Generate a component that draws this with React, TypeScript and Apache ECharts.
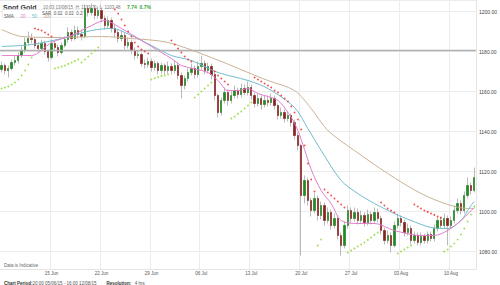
import React, { useEffect, useRef } from "react";
import * as echarts from "echarts";

// ---- data (4h-ish bars, 15 bars per week) ----
const weekLabels = ["08 Jun", "15 Jun", "22 Jun", "29 Jun", "06 Jul", "13 Jul", "20 Jul", "27 Jul", "03 Aug", "10 Aug"];
const barsPerWeek = 15;

const opens = [
  1171, 1173, 1170.5, 1171.5, 1174.5, 1175.5, 1178, 1180.5, 1184.5, 1186.5,
  1186, 1183, 1181.5, 1184, 1180, 1177, 1184, 1182, 1179.5, 1183,
  1186, 1189.5, 1186.5, 1190.5, 1188.5, 1187.5, 1201.5, 1199.5, 1201.5, 1198,
  1200.5, 1196.5, 1193, 1195.5, 1191.5, 1189.5, 1186.5, 1188, 1183, 1184.5,
  1180.5, 1178, 1178.5, 1174, 1173.5, 1175, 1172, 1174, 1170.5, 1173,
  1170.5, 1172.5, 1170.5, 1173, 1168, 1163, 1166.5, 1169.5, 1171.5, 1168.5,
  1172.5, 1174, 1170.5, 1172.5, 1168.5, 1158, 1149.5, 1155.5, 1159.5, 1155.5,
  1158, 1160.5, 1158.5, 1161.5, 1159.5, 1162, 1158, 1154, 1156.5, 1153.5,
  1155.5, 1154.5, 1156.5, 1153, 1148, 1149.5, 1146.5, 1148, 1144.5, 1138,
  1133, 1108, 1115.5, 1105.5, 1100.5, 1106.5, 1098, 1103, 1095.5, 1099.5,
  1093, 1096.5, 1088, 1083, 1093, 1100.5, 1096.5, 1099.5, 1095.5, 1098,
  1094.5, 1098.5, 1095.5, 1099.5, 1096.5, 1090.5, 1085.5, 1088, 1083, 1093,
  1096.5, 1094.5, 1089.5, 1091.5, 1085.5, 1088, 1084.5, 1087.5, 1085.5, 1088.5,
  1086.5, 1091.5, 1095.5, 1093, 1096.5, 1093, 1095.5, 1100.5, 1104, 1100.5,
  1108, 1113, 1110.5,
];
const closes = [
  1173, 1170.5, 1171.5, 1174.5, 1175.5, 1178, 1180.5, 1184.5, 1186.5, 1186,
  1183, 1181.5, 1184, 1180, 1177, 1184, 1182, 1179.5, 1183, 1186,
  1189.5, 1186.5, 1190.5, 1188.5, 1187.5, 1201.5, 1199.5, 1201.5, 1198, 1200.5,
  1196.5, 1193, 1195.5, 1191.5, 1189.5, 1186.5, 1188, 1183, 1184.5, 1180.5,
  1178, 1178.5, 1174, 1173.5, 1175, 1172, 1174, 1170.5, 1173, 1170.5,
  1172.5, 1170.5, 1173, 1168, 1163, 1166.5, 1169.5, 1171.5, 1168.5, 1172.5,
  1174, 1170.5, 1172.5, 1168.5, 1158, 1149.5, 1155.5, 1159.5, 1155.5, 1158,
  1160.5, 1158.5, 1161.5, 1159.5, 1162, 1158, 1154, 1156.5, 1153.5, 1155.5,
  1154.5, 1156.5, 1153, 1148, 1149.5, 1146.5, 1148, 1144.5, 1138, 1133,
  1108, 1115.5, 1105.5, 1100.5, 1106.5, 1098, 1103, 1095.5, 1099.5, 1093,
  1096.5, 1088, 1083, 1093, 1100.5, 1096.5, 1099.5, 1095.5, 1098, 1094.5,
  1098.5, 1095.5, 1099.5, 1096.5, 1090.5, 1085.5, 1088, 1083, 1093, 1096.5,
  1094.5, 1089.5, 1091.5, 1085.5, 1088, 1084.5, 1087.5, 1085.5, 1088.5, 1086.5,
  1091.5, 1095.5, 1093, 1096.5, 1093, 1095.5, 1100.5, 1104, 1100.5, 1108,
  1113, 1110.5, 1116.94,
];
const highs = [
  1175, 1174, 1173, 1176, 1178, 1179.5, 1182.5, 1187, 1190, 1189,
  1187, 1184.5, 1186, 1185.5, 1181, 1186, 1185.5, 1183.5, 1184.5, 1187.5,
  1192, 1191, 1193, 1192.5, 1191, 1203.5, 1203, 1204, 1203, 1202.5,
  1202, 1198, 1197.5, 1197, 1193.5, 1191, 1190.5, 1189.5, 1187, 1186,
  1182, 1180.5, 1179.5, 1176, 1177, 1176.5, 1175.5, 1175, 1174.5, 1174,
  1175, 1174, 1175.5, 1174.5, 1169.5, 1168, 1171.5, 1174, 1173, 1175,
  1178, 1175.5, 1174.5, 1174, 1169.5, 1159, 1157, 1162, 1161, 1160,
  1163, 1162, 1164, 1163.5, 1165, 1163.5, 1159.5, 1159, 1158, 1158,
  1158, 1159, 1158, 1154, 1152, 1151, 1150, 1149, 1146, 1139.5,
  1134, 1118, 1117, 1107, 1109, 1108, 1105, 1104.5, 1102, 1101,
  1099, 1098, 1089.5, 1095, 1103, 1102, 1102, 1101.5, 1100.5, 1099.5,
  1101, 1100, 1102, 1101.5, 1098, 1092, 1090.5, 1089.5, 1095, 1099,
  1098, 1096, 1094, 1093, 1090, 1089.5, 1089.5, 1089, 1090, 1090,
  1093.5, 1097, 1097.5, 1099, 1098, 1097.5, 1103, 1106.5, 1105.5, 1110,
  1117, 1114.5, 1122,
];
const lows = [
  1169.5, 1168.5, 1167, 1170.5, 1173, 1174, 1177, 1179.5, 1183, 1184,
  1181.5, 1179.5, 1180.5, 1178.5, 1175, 1176, 1180, 1177.5, 1178.5, 1182,
  1184.5, 1185, 1185.5, 1186.5, 1185.5, 1186.5, 1197.5, 1198, 1196, 1196.5,
  1194.5, 1191, 1191.5, 1189.5, 1187, 1184.5, 1185, 1181, 1181.5, 1178.5,
  1176, 1176.5, 1172.5, 1171.5, 1172, 1170, 1170.5, 1168.5, 1169, 1168.5,
  1169, 1168.5, 1169, 1166, 1156.5, 1161, 1165, 1168, 1166.5, 1167,
  1171, 1168.5, 1169, 1166, 1155.5, 1147, 1148, 1154, 1153, 1154,
  1156.5, 1156.5, 1157, 1158, 1158, 1156, 1152, 1152.5, 1151, 1152,
  1152.5, 1153, 1151, 1146, 1146.5, 1144.5, 1145, 1142.5, 1136, 1130.5,
  1078, 1104, 1103, 1097.5, 1099, 1095.5, 1096, 1093, 1094, 1091,
  1091.5, 1086, 1078, 1081.5, 1091.5, 1094.5, 1095, 1093.5, 1094, 1092.5,
  1093, 1093.5, 1094, 1094.5, 1088.5, 1083.5, 1084, 1079.5, 1082, 1091.5,
  1092.5, 1087.5, 1088, 1083.5, 1084, 1083, 1083, 1084, 1084, 1085,
  1085, 1090, 1091.5, 1091.5, 1083, 1091.5, 1094, 1099, 1098.5, 1099,
  1106.5, 1108.5, 1109.5,
];

// moving averages: [bar index, price]
const sma20: [number, number][] = [
  [0, 1178], [9, 1178], [15, 1184.5], [21, 1188], [27, 1193], [31, 1195.5], [36, 1191.5],
  [42, 1185.5], [48, 1179.5], [51, 1176.5], [54, 1173], [62, 1169.5], [65, 1165.5], [68, 1160.5],
  [71, 1160.5], [74, 1161.5], [77, 1159], [83, 1155.5], [87, 1147], [89, 1140.5], [91, 1131],
  [93, 1121], [96, 1110.5], [99, 1104], [102, 1095.5], [107, 1094], [112, 1094], [118, 1090.5],
  [126, 1088], [130, 1088], [134, 1090.5], [138, 1095.5], [142, 1102],
];
const sma50: [number, number][] = [
  [0, 1182.5], [9, 1183.5], [18, 1186.5], [27, 1190.5], [33, 1191.5], [39, 1188], [45, 1183],
  [51, 1178], [57, 1175.5], [65, 1169.5], [74, 1165.5], [80, 1161.5], [88, 1152], [92, 1141.5],
  [96, 1130.5], [102, 1115.5], [107, 1109], [112, 1104], [118, 1099], [123, 1095.5],
  [129, 1092], [134, 1091.5], [138, 1095.5], [141, 1103], [142, 1105],
];
const sma200: [number, number][] = [
  [0, 1191], [6, 1187.5], [18, 1187], [30, 1187.5], [39, 1186.5], [50, 1184.5], [63, 1177],
  [74, 1169.5], [80, 1165.5], [88, 1160.5], [93, 1151.5], [98, 1140.5], [106, 1130.5],
  [116, 1119], [126, 1109], [134, 1103.5], [140, 1101.5], [142, 1101.5],
];

// Parabolic SAR dots: below price (green) and above price (red)
const sarBelow: [number, number][] = [
  [0, 1161.5], [1, 1162], [2, 1162.5], [3, 1163.5], [4, 1164.5], [5, 1166], [6, 1168], [7, 1170.5], [8, 1173.5], [9, 1177],
  [16, 1171.5], [17, 1172], [18, 1172.5], [19, 1173], [20, 1173.8], [21, 1174.5], [22, 1175.2], [23, 1176],
  [24, 1174.5], [25, 1176], [26, 1177.5], [27, 1179], [28, 1180.5], [29, 1182],
  [45, 1166], [46, 1166.6], [47, 1167.2], [48, 1167.8], [49, 1168], [50, 1168.5],
  [58, 1157], [59, 1158.5], [60, 1160], [61, 1161.5], [62, 1163], [63, 1164.5],
  [69, 1146.5], [70, 1147.5], [71, 1148.8], [72, 1150], [73, 1151.5], [74, 1153], [75, 1154.5],
  [95, 1083], [96, 1086],
  [104, 1079.5], [105, 1080.5], [106, 1081.5], [107, 1082.5], [108, 1083.5], [109, 1084.5], [110, 1085.8], [111, 1087], [112, 1088.3], [113, 1089.5],
  [119, 1079], [120, 1080], [121, 1081], [122, 1082], [123, 1083],
  [133, 1080], [134, 1081], [135, 1082.5], [136, 1084], [137, 1086], [138, 1088.5], [139, 1091.5], [140, 1095], [141, 1098.5], [142, 1102.5],
];
const sarAbove: [number, number][] = [
  [10, 1191.5], [11, 1191], [12, 1190.5], [13, 1189.5], [14, 1188.5], [15, 1187.5],
  [34, 1201], [35, 1199], [36, 1196], [37, 1193], [38, 1190], [39, 1187.5], [40, 1184.5], [41, 1182.5], [42, 1181], [43, 1180], [44, 1179],
  [51, 1185.5], [52, 1183.5], [53, 1181.5], [54, 1179.5], [55, 1177.5], [56, 1176], [57, 1175],
  [64, 1170], [65, 1168], [66, 1166.5], [67, 1165], [68, 1163.5],
  [76, 1167], [77, 1166], [78, 1165], [79, 1164], [80, 1163], [81, 1162], [82, 1160.5], [83, 1159.5], [84, 1158], [85, 1156.5],
  [86, 1155], [87, 1152.5], [88, 1149.5], [89, 1146], [90, 1141], [91, 1133], [92, 1124], [93, 1116], [94, 1110],
  [97, 1111], [98, 1109.5], [99, 1108], [100, 1106.5], [101, 1105], [102, 1103.5], [103, 1102],
  [114, 1104.5], [115, 1103], [116, 1101.5], [117, 1100.5], [118, 1099.5],
  [124, 1103.5], [125, 1102.5], [126, 1101.5], [127, 1100.5], [128, 1099.8], [129, 1099], [130, 1098.3], [131, 1097.5], [132, 1096.8],
];

const refLevel = 1180.5;
const yMin = 1071.25;
const yMax = 1205.75;

const FONT = "'Liberation Sans', Arial, sans-serif";

export default function App() {
  const ref = useRef<HTMLDivElement>(null);
  useEffect(() => {
    const chart = echarts.init(ref.current!, undefined, { renderer: "svg" });
    const categories = closes.map((_, i) => String(i));
    const wickData = closes.map((c, i) => [opens[i], c, lows[i], highs[i]]);
    const bodyData = closes.map((c, i) => [opens[i], c, Math.min(opens[i], c), Math.max(opens[i], c)]);
    const isWeekStart = (idx: number) => idx > 0 && idx % barsPerWeek === 0;
    const last = closes[closes.length - 1];

    chart.setOption({
      animation: false,
      backgroundColor: "#ffffff",
      textStyle: { fontFamily: FONT },
      grid: { left: 0, right: 23, top: 0, bottom: 16 },
      xAxis: {
        type: "category",
        data: categories,
        boundaryGap: true,
        axisLine: { show: true, lineStyle: { color: "#e4e4e4" } },
        axisTick: { show: false },
        axisLabel: {
          interval: (idx: number) => isWeekStart(idx),
          formatter: (_v: string, idx: number) => weekLabels[Math.round(idx / barsPerWeek)] ?? "",
          fontSize: 4.5,
          color: "#555",
          margin: 2,
          fontFamily: FONT,
        },
        splitLine: {
          show: true,
          interval: (idx: number) => isWeekStart(idx),
          lineStyle: { color: "#ececec", width: 1 },
        },
      },
      yAxis: {
        type: "value",
        position: "right",
        min: yMin,
        max: yMax,
        splitNumber: 6,
        axisLine: { show: true, lineStyle: { color: "#e4e4e4" } },
        axisTick: { show: false },
        axisLabel: {
          formatter: (v: number) => v.toFixed(2),
          fontSize: 5,
          color: "#444",
          margin: 3,
          showMinLabel: false,
          showMaxLabel: false,
          fontFamily: FONT,
        },
        splitLine: { show: true, lineStyle: { color: "#ececec", width: 1 } },
      },
      series: [
        {
          name: "wick",
          type: "candlestick",
          data: wickData,
          barWidth: "55%",
          itemStyle: { color: "#b8b8b8", color0: "#b8b8b8", borderColor: "#a8a8a8", borderColor0: "#a8a8a8", borderWidth: 0.8 },
          markLine: {
            silent: true,
            symbol: "none",
            data: [{ yAxis: refLevel }],
            lineStyle: { color: "#b0b0b0", width: 1.3, type: "solid" },
            label: { show: false },
          },
          z: 2,
        },
        {
          name: "body",
          type: "candlestick",
          data: bodyData,
          barWidth: "55%",
          itemStyle: { color: "#1d8a1d", color0: "#8e1f1f", borderColor: "#1d8a1d", borderColor0: "#8e1f1f", borderWidth: 0.5 },
          markLine: {
            silent: true,
            symbol: "none",
            data: [{ yAxis: last }],
            lineStyle: { opacity: 0 },
            label: {
              show: true,
              position: "end",
              formatter: (p: any) => Number(p.value).toFixed(2),
              fontSize: 5,
              color: "#333",
              backgroundColor: "#ffffff",
              borderColor: "#8a8a8a",
              borderWidth: 0.8,
              padding: [1, 2, 1, 2],
              distance: 1,
              fontFamily: FONT,
            },
          },
          z: 3,
        },
        {
          name: "SMA 200",
          type: "line",
          data: sma200,
          smooth: 0.3,
          showSymbol: false,
          lineStyle: { color: "#cbb396", width: 1 },
          z: 4,
        },
        {
          name: "SMA 50",
          type: "line",
          data: sma50,
          smooth: 0.3,
          showSymbol: false,
          lineStyle: { color: "#72bccd", width: 1 },
          z: 4,
        },
        {
          name: "SMA 20",
          type: "line",
          data: sma20,
          smooth: 0.3,
          showSymbol: false,
          lineStyle: { color: "#e27dcb", width: 1 },
          z: 4,
        },
        {
          name: "SAR below",
          type: "scatter",
          data: sarBelow,
          symbol: "circle",
          symbolSize: 1.8,
          itemStyle: { color: "#86d61e" },
          z: 5,
        },
        {
          name: "SAR above",
          type: "scatter",
          data: sarAbove,
          symbol: "circle",
          symbolSize: 1.8,
          itemStyle: { color: "#f22020" },
          z: 5,
        },
      ],
      graphic: [
        {
          type: "text",
          left: 3,
          top: 1,
          z: 100,
          style: {
            text: "{t|Spot Gold}  {g|10:03 13/08/15  H: 1119.71  L: 1103.48}  {u|7.74  0.7%}",
            rich: {
              t: { fontSize: 7, fontWeight: "bold", fill: "#333", fontFamily: FONT },
              g: { fontSize: 4.5, fill: "#777", fontFamily: FONT },
              u: { fontSize: 5, fontWeight: "bold", fill: "#3aa83a", fontFamily: FONT },
            },
          },
        },
        {
          type: "rect",
          left: 2,
          top: 9,
          z: 100,
          shape: { width: 80, height: 8 },
          style: { fill: "#ffffff", stroke: "#dddddd", lineWidth: 0.6 },
        },
        {
          type: "text",
          left: 4,
          top: 10.5,
          z: 101,
          style: {
            text: "{s|SMA}  {a|20}  {b|50}  {c|200}",
            rich: {
              s: { fontSize: 4.5, fill: "#555", fontFamily: FONT },
              a: { fontSize: 4.5, fill: "#e27dcb", fontFamily: FONT },
              b: { fontSize: 4.5, fill: "#72bccd", fontFamily: FONT },
              c: { fontSize: 4.5, fill: "#c2a47e", fontFamily: FONT },
            },
          },
        },
        {
          type: "text",
          left: 42,
          top: 10.5,
          z: 101,
          style: { text: "SAR  0.02  0.02  0.2", fontSize: 4.5, fill: "#555", fontFamily: FONT },
        },
        {
          type: "text",
          left: 4,
          top: 263,
          z: 100,
          style: { text: "Data is Indicative", fontSize: 4.5, fill: "#666", fontFamily: FONT },
        },
        {
          type: "text",
          left: 4,
          top: 277,
          z: 100,
          style: {
            text: "{b|Chart Period:}{n|20:00 05/06/15 - 16:00 12/08/15}   {b|Resolution:} {n|4 hrs}",
            rich: {
              b: { fontSize: 4.5, fontWeight: "bold", fill: "#333", fontFamily: FONT },
              n: { fontSize: 4.5, fill: "#555", fontFamily: FONT },
            },
          },
        },
      ],
    });
    return () => chart.dispose();
  }, []);
  return (
    <div
      ref={ref}
      style={{ position: "fixed", left: 0, top: 0, width: 500, height: 285, background: "#fff" }}
    />
  );
}
